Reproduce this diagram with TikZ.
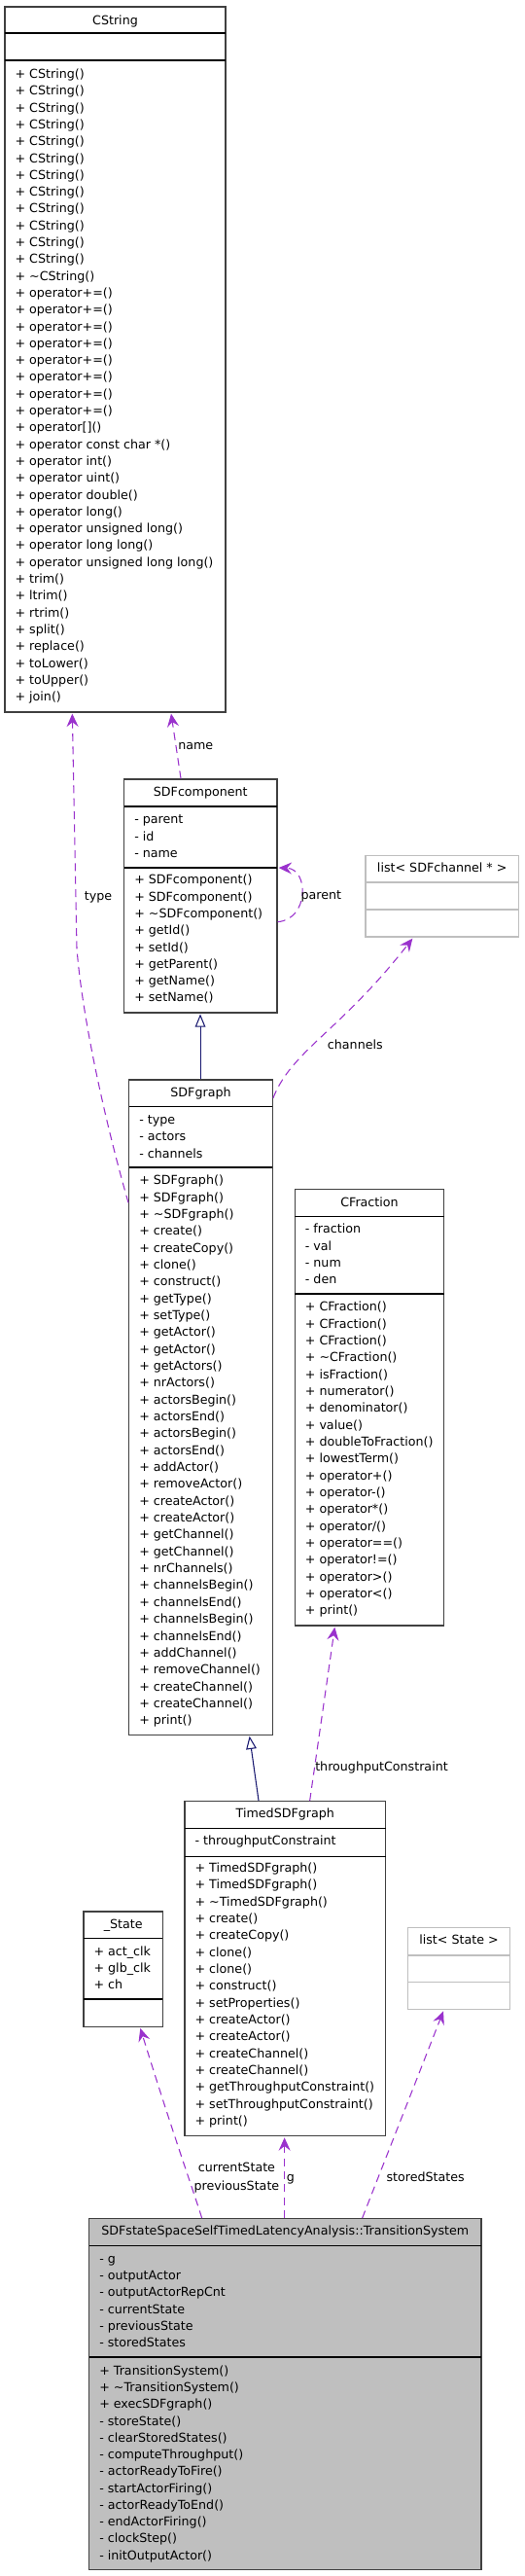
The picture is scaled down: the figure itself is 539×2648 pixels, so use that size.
\documentclass[tikz,border=0pt]{standalone}
\usepackage{fontspec}
\setmainfont{DejaVu Sans}
\usetikzlibrary{arrows.meta,fit,calc}
\definecolor{edgepurple}{HTML}{9A32CD}
\definecolor{edgenavy}{HTML}{191970}
\definecolor{boxgray}{HTML}{BFBFBF}
\definecolor{lightborder}{HTML}{BFBFBF}
\definecolor{darkborder}{HTML}{404040}
\newcommand\memberlines[5]{\foreach \mtext [count=\mi from 0] in {#5} {\node[txt] (#1-\mi) at (#2, #3+#4*\mi+4.5) {\mtext};}}
\begin{document}
\begin{tikzpicture}[x=0.75pt,y=-0.75pt,
  font=\fontsize{9.5pt}{11pt}\selectfont,
  umlbox/.style={draw=darkborder, line width=1pt, inner sep=0pt, fill=white},
  graybox/.style={draw=lightborder, line width=1pt, inner sep=0pt, fill=white},
  sepline/.style={line width=1.1pt, draw=black},
  graysep/.style={line width=1pt, draw=lightborder},
  txt/.style={anchor=base west, inner sep=0pt},
  ttl/.style={anchor=base, inner sep=0pt},
  lbl/.style={anchor=base west, inner sep=0pt},
  assoc/.style={draw=edgepurple, line width=0.8pt, dash pattern=on 6pt off 4pt, -{Stealth[length=10pt,width=9pt,inset=3.5pt]}},
  inherit/.style={draw=edgenavy, line width=0.8pt, -{Triangle[open, length=10pt, width=8pt, fill=white]}}]
\fill[white] (0,0) rectangle (539,2648);
\useasboundingbox (0,0) rectangle (539,2648);

% ---------- CString ----------
\node[umlbox, fit={(5,7)(232,732)}] (cstring) {};
\draw[sepline] (5,34) -- (232,34);
\draw[sepline] (5,62) -- (232,62);
\node[ttl] (cstring-t) at (118.5,25) {CString};
\memberlines{cstringm}{15.3}{76}{17.3}{+ CString(),+ CString(),+ CString(),+ CString(),+ CString(),+ CString(),+ CString(),+ CString(),+ CString(),+ CString(),+ CString(),+ CString(),+ \textasciitilde CString(),+ operator+=(),+ operator+=(),+ operator+=(),+ operator+=(),+ operator+=(),+ operator+=(),+ operator+=(),+ operator+=(),+ operator[](),+ operator const char *(),+ operator int(),+ operator uint(),+ operator double(),+ operator long(),+ operator unsigned long(),+ operator long long(),+ operator unsigned long long(),+ trim(),+ ltrim(),+ rtrim(),+ split(),+ replace(),+ toLower(),+ toUpper(),+ join()}

% ---------- SDFcomponent ----------
\node[umlbox, fit={(127.7,801)(285,1041)}] (sdfcomp) {};
\draw[sepline] (127.7,829) -- (285,829);
\draw[sepline] (127.7,892) -- (285,892);
\node[ttl] (sdfcomp-t) at (206.3,818.8) {SDFcomponent};
\memberlines{sdfcompa}{138}{842.3}{17.3}{- parent,- id,- name}
\memberlines{sdfcompm}{138}{904.3}{17.3}{+ SDFcomponent(),+ SDFcomponent(),+ \textasciitilde SDFcomponent(),+ getId(),+ setId(),+ getParent(),+ getName(),+ setName()}

% ---------- list< SDFchannel * > ----------
\node[graybox, fit={(376,879.3)(533.3,963)}] (lsc) {};
\draw[graysep] (376,907) -- (533.3,907);
\draw[graysep] (376,935) -- (533.3,935);
\node[ttl] (lsc-t) at (454.7,896.8) {list< SDFchannel * >};

% ---------- SDFgraph ----------
\node[umlbox, fit={(132.7,1110)(280.3,1783.3)}] (sdfgraph) {};
\draw[sepline] (132.7,1137.7) -- (280.3,1137.7);
\draw[sepline] (132.7,1200) -- (280.3,1200);
\node[ttl] (sdfgraph-t) at (206.5,1127.2) {SDFgraph};
\memberlines{sdfgrapha}{143}{1151}{17.3}{- type,- actors,- channels}
\memberlines{sdfgraphm}{143}{1213.3}{17.34}{+ SDFgraph(),+ SDFgraph(),+ \textasciitilde SDFgraph(),+ create(),+ createCopy(),+ clone(),+ construct(),+ getType(),+ setType(),+ getActor(),+ getActor(),+ getActors(),+ nrActors(),+ actorsBegin(),+ actorsEnd(),+ actorsBegin(),+ actorsEnd(),+ addActor(),+ removeActor(),+ createActor(),+ createActor(),+ getChannel(),+ getChannel(),+ nrChannels(),+ channelsBegin(),+ channelsEnd(),+ channelsBegin(),+ channelsEnd(),+ addChannel(),+ removeChannel(),+ createChannel(),+ createChannel(),+ print()}

% ---------- CFraction ----------
\node[umlbox, fit={(303.3,1222.7)(456.7,1671)}] (cfrac) {};
\draw[sepline] (303.3,1250.7) -- (456.7,1250.7);
\draw[sepline] (303.3,1330) -- (456.7,1330);
\node[ttl] (cfrac-t) at (380,1240.2) {CFraction};
\memberlines{cfraca}{313.6}{1263.3}{17.3}{- fraction,- val,- num,- den}
\memberlines{cfracm}{313.6}{1343.3}{17.33}{+ CFraction(),+ CFraction(),+ CFraction(),+ \textasciitilde CFraction(),+ isFraction(),+ numerator(),+ denominator(),+ value(),+ doubleToFraction(),+ lowestTerm(),+ operator+(),+ operator-(),+ operator*(),+ operator/(),+ operator==(),+ operator!=(),+ operator>(),+ operator<(),+ print()}

% ---------- TimedSDFgraph ----------
\node[umlbox, fit={(190,1851.7)(396.5,2195.7)}] (timed) {};
\draw[sepline] (190,1879.3) -- (396.5,1879.3);
\draw[sepline] (190,1908.3) -- (396.5,1908.3);
\node[ttl] (timed-t) at (293.3,1868.8) {TimedSDFgraph};
\memberlines{timeda}{200.3}{1892.3}{17.3}{- throughputConstraint}
\memberlines{timedm}{200.3}{1920}{17.33}{+ TimedSDFgraph(),+ TimedSDFgraph(),+ \textasciitilde TimedSDFgraph(),+ create(),+ createCopy(),+ clone(),+ clone(),+ construct(),+ setProperties(),+ createActor(),+ createActor(),+ createChannel(),+ createChannel(),+ getThroughputConstraint(),+ setThroughputConstraint(),+ print()}

% ---------- _State ----------
\node[umlbox, fit={(86,1965)(167.3,2083.3)}] (state) {};
\draw[sepline] (86,1992.7) -- (167.3,1992.7);
\draw[sepline] (86,2055) -- (167.3,2055);
\node[ttl] (state-t) at (126.7,1982.2) {\_State};
\memberlines{statea}{96.3}{2005.7}{17.3}{+ act\_clk,+ glb\_clk,+ ch}

% ---------- list< State > ----------
\node[graybox, fit={(419.3,1981.7)(524.7,2065.7)}] (lst) {};
\draw[graysep] (419.3,2010) -- (524.7,2010);
\draw[graysep] (419.3,2037.7) -- (524.7,2037.7);
\node[ttl] (lst-t) at (472,1998.8) {list< State >};

% ---------- TransitionSystem ----------
\node[umlbox, fill=boxgray, fit={(91.7,2280.7)(495,2641.7)}] (ts) {};
\draw[sepline] (91.7,2308.3) -- (495,2308.3);
\draw[sepline] (91.7,2423) -- (495,2423);
\node[ttl] (ts-t) at (293.3,2297.8) {SDFstateSpaceSelfTimedLatencyAnalysis::TransitionSystem};
\memberlines{tsa}{102}{2321.7}{17.3}{- g,- outputActor,- outputActorRepCnt,- currentState,- previousState,- storedStates}
\memberlines{tsm}{102}{2436.7}{17.27}{+ TransitionSystem(),+ \textasciitilde TransitionSystem(),+ execSDFgraph(),- storeState(),- clearStoredStates(),- computeThroughput(),- actorReadyToFire(),- startActorFiring(),- actorReadyToEnd(),- endActorFiring(),- clockStep(),- initOutputActor()}

% ---------- connectors ----------
% type: SDFgraph -> CString
\draw[assoc] ($(sdfgraph.north west)+(0,127)$) .. controls (110,1160) and (85,1050) .. (79,975) -- ($(cstring.south west)+(70,1)$);
\node[lbl] (type-l) at (86.7,925.5) {type};
% name: SDFcomponent -> CString
\draw[assoc] ($(sdfcomp.north west)+(59,0)$) -- ($(cstring.south west)+(171.7,1)$);
\node[lbl] (name-l) at (183,770.2) {name};
% parent: self loop
\draw[assoc] ($(sdfcomp.north east)+(0,147.3)$) .. controls (318,945) and (318,893) .. ($(sdfcomp.north east)+(1,91.7)$);
\node[lbl] (parent-l) at (309.3,924.5) {parent};
% channels: SDFgraph -> list<SDFchannel*>
\draw[assoc] ($(sdfgraph.north east)+(0,19.3)$) .. controls (300,1080) and (350,1060) .. ($(lsc.south west)+(49,1)$);
\node[lbl] (channels-l) at (336.7,1078.8) {channels};
% inheritance SDFgraph -> SDFcomponent
\draw[inherit] ($(sdfgraph.north west)+(74,0)$) -- ($(sdfcomp.south west)+(79,0.7)$);
% throughputConstraint: TimedSDFgraph -> CFraction
\draw[assoc] ($(timed.north west)+(129.3,0)$) -- ($(cfrac.south west)+(41.7,1)$);
\node[lbl] (tc-l) at (324,1820.5) {throughputConstraint};
% inheritance TimedSDFgraph -> SDFgraph
\draw[inherit] ($(timed.north west)+(76.7,0)$) -- ($(sdfgraph.south west)+(124.6,0.7)$);
% currentState / previousState: TS -> _State
\draw[assoc] ($(ts.north west)+(116.6,0)$) .. controls (200,2255) and (180,2200) .. ($(state.south west)+(59,1)$);
\node[ttl] (cs-l) at (243.4,2232.8) {currentState};
\node[ttl] (ps-l) at (243.4,2251.2) {previousState};
% g: TS -> TimedSDFgraph
\draw[assoc] ($(ts.north west)+(201.6,0)$) -- ($(timed.south west)+(103.3,1)$);
\node[lbl] (g-l) at (294.5,2242.8) {g};
% storedStates: TS -> list<State>
\draw[assoc] ($(ts.north west)+(281.6,0)$) -- ($(lst.south west)+(37.4,1)$);
\node[lbl] (ss-l) at (397.3,2242.2) {storedStates};
\end{tikzpicture}
\end{document}
